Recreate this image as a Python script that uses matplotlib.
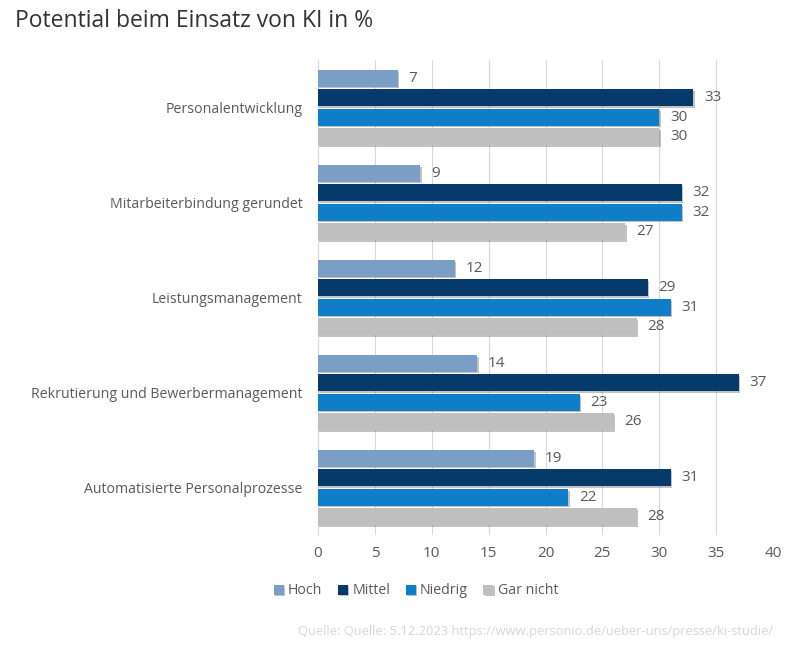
import matplotlib.pyplot as plt
import matplotlib.patheffects as pe
import numpy as np

plt.rcParams['font.family'] = ['Open Sans', 'DejaVu Sans']

categories = ['Personalentwicklung', 'Mitarbeiterbindung gerundet', 'Leistungsmanagement',
              'Rekrutierung und Bewerbermanagement', 'Automatisierte Personalprozesse']
series = ['Hoch', 'Mittel', 'Niedrig', 'Gar nicht']
hoch = [7, 9, 12, 14, 19]
mittel = [33, 32, 29, 37, 31]
niedrig = [30, 32, 31, 23, 22]
gar_nicht = [30, 27, 28, 26, 28]
values = [hoch, mittel, niedrig, gar_nicht]
colors = ['#7A9EC6', '#053A6B', '#0F7DC7', '#BFBFBF']

fig = plt.figure(figsize=(8.06, 6.45), dpi=100)
ax = fig.add_axes([318 / 806, 1 - 535 / 645, 455 / 806, 475 / 645])

y = np.arange(len(categories))
pitch = 0.205
height = 0.175
shadow = [pe.SimplePatchShadow(offset=(1, -1.2), shadow_rgbFace='#555555', alpha=0.35), pe.Normal()]
for i, (name, vals, c) in enumerate(zip(series, values, colors)):
    pos = y + (i - 1.5) * pitch
    bars = ax.barh(pos, vals, height=height, color=c, label=name, zorder=3)
    for b in bars:
        b.set_path_effects(shadow)
    for p, v in zip(pos, vals):
        ax.text(v + 0.95, p, str(v), va='center', ha='left', fontsize=11, color='#595959')

ax.set_ylim(len(categories) - 0.5, -0.5)
ax.set_xlim(0, 40)
ax.set_xticks(range(0, 41, 5))
ax.set_yticks(y)
ax.set_yticklabels(categories)
ax.tick_params(axis='both', length=0, labelsize=10.2, labelcolor='#595959')
ax.tick_params(axis='x', labelsize=11, pad=8)
ax.tick_params(axis='y', pad=11)
ax.grid(axis='x', color='#D9D9D9', linewidth=0.8, zorder=0)
for s in ['top', 'right', 'bottom']:
    ax.spines[s].set_visible(False)
ax.spines['left'].set_color('#D9D9D9')

fig.text(0.018, 0.968, 'Potential beim Einsatz von KI in %', fontsize=16.5, color='#333333', va='center')

ax.legend(loc='center', bbox_to_anchor=(416 / 806, 1 - 591 / 645), bbox_transform=fig.transFigure,
          ncol=4, frameon=False, fontsize=10.2, handlelength=0.7, handleheight=0.7,
          handletextpad=0.3, columnspacing=1.1, labelcolor='#595959')

fig.text(773 / 806, 1 - 632 / 645,
         'Quelle: Quelle: 5.12.2023 https://www.personio.de/ueber-uns/presse/ki-studie/',
         fontsize=9.3, color='#D6D6D6', ha='right', va='center')

fig.savefig('out.png', dpi=100)
